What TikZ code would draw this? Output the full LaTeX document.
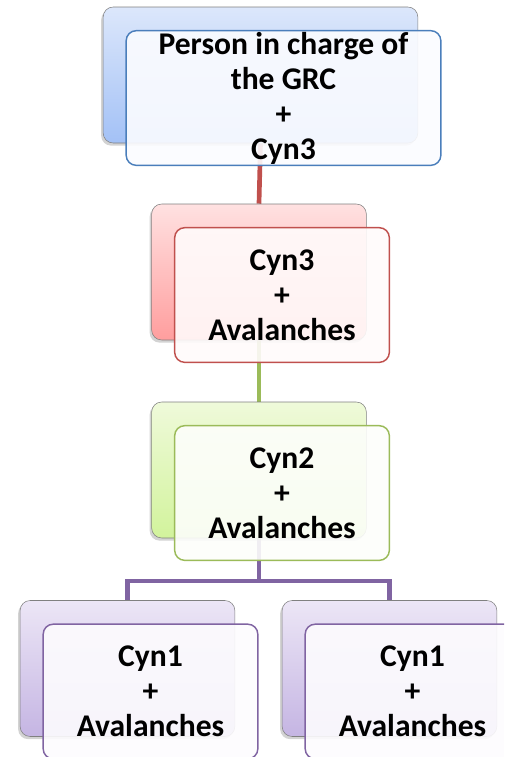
\documentclass[tikz,border=0pt]{standalone}
\usepackage{fontspec}
\setmainfont{Carlito}
\usetikzlibrary{shadows,backgrounds}

\definecolor{grcline}{HTML}{4A7EBB}
\definecolor{grctop}{HTML}{DCE7FB}
\definecolor{grcbot}{HTML}{A3C1F6}
\definecolor{cynthreeline}{HTML}{C0504D}
\definecolor{cynthreetop}{HTML}{FFE1E1}
\definecolor{cynthreebot}{HTML}{FF9E9E}
\definecolor{cyntwoline}{HTML}{9BBB59}
\definecolor{cyntwotop}{HTML}{EFFADA}
\definecolor{cyntwobot}{HTML}{D2F39C}
\definecolor{cynoneline}{HTML}{8064A2}
\definecolor{cynonetop}{HTML}{ECE6F6}
\definecolor{cynonebot}{HTML}{C5B5E3}

\tikzset{
  backbox/.style={draw=black!50, rounded corners=7.5pt, minimum width=161pt, minimum height=102pt,
    drop shadow={shadow xshift=-1.5pt, shadow yshift=-2pt, opacity=0.35}},
  frontbox/.style={draw, line width=1.1pt, rounded corners=7.5pt, fill opacity=0.9, text opacity=1,
    minimum width=161pt, minimum height=101pt, inner sep=0pt, align=center,
    font=\bfseries\fontsize{23.7}{26.3}\selectfont},
  link/.style={line width=3.5pt}
}

\begin{document}
\begin{tikzpicture}[x=0.75pt,y=0.75pt,yscale=-1,xscale=1]
\useasboundingbox (0,0) rectangle (504,757);
\clip (0,0) rectangle (504,757);

% Level 1
\node [backbox, minimum width=236pt, top color=grctop, bottom color=grcbot] (grcback) at (260.5,75) {};
\node [frontbox, minimum width=236pt, draw=grcline, fill=grctop!12] (grc) at ([shift={(23,23)}]grcback.center) {Person in charge of\\the GRC\\+\\Cyn3};

% Level 2
\node [backbox, top color=cynthreetop, bottom color=cynthreebot] (cynthreeback) at (259,272) {};
\node [frontbox, draw=cynthreeline, fill=cynthreetop!12] (cynthree) at ([shift={(23,23)}]cynthreeback.center) {Cyn3\\+\\Avalanches};

% Level 3
\node [backbox, top color=cyntwotop, bottom color=cyntwobot] (cyntwoback) at (259,470) {};
\node [frontbox, draw=cyntwoline, fill=cyntwotop!12] (cyntwo) at ([shift={(23,23)}]cyntwoback.center) {Cyn2\\+\\Avalanches};

% Level 4
\node [backbox, top color=cynonetop, bottom color=cynonebot] (cynoneaback) at (127.5,668.5) {};
\node [frontbox, draw=cynoneline, fill=cynonetop!12] (cynonea) at ([shift={(23,23)}]cynoneaback.center) {Cyn1\\+\\Avalanches};
\node [backbox, top color=cynonetop, bottom color=cynonebot] (cynonebback) at (389.5,668.5) {};
\node [frontbox, draw=cynoneline, fill=cynonetop!12] (cynoneb) at ([shift={(23,23)}]cynonebback.center) {Cyn1\\+\\Avalanches};

% Connectors
\coordinate (fork) at (259,581);
\begin{scope}[on background layer]
\draw [link, cynthreeline] (grcback.south) -- (cynthreeback.north);
\draw [link, cyntwoline] (cynthreeback.south) -- (cyntwoback.north);
\draw [link, cynoneline] (cyntwoback.south) -- (fork);
\draw [link, cynoneline] (fork) -| (cynoneaback.north);
\draw [link, cynoneline] (fork) -| (cynonebback.north);
\end{scope}

\end{tikzpicture}
\end{document}
